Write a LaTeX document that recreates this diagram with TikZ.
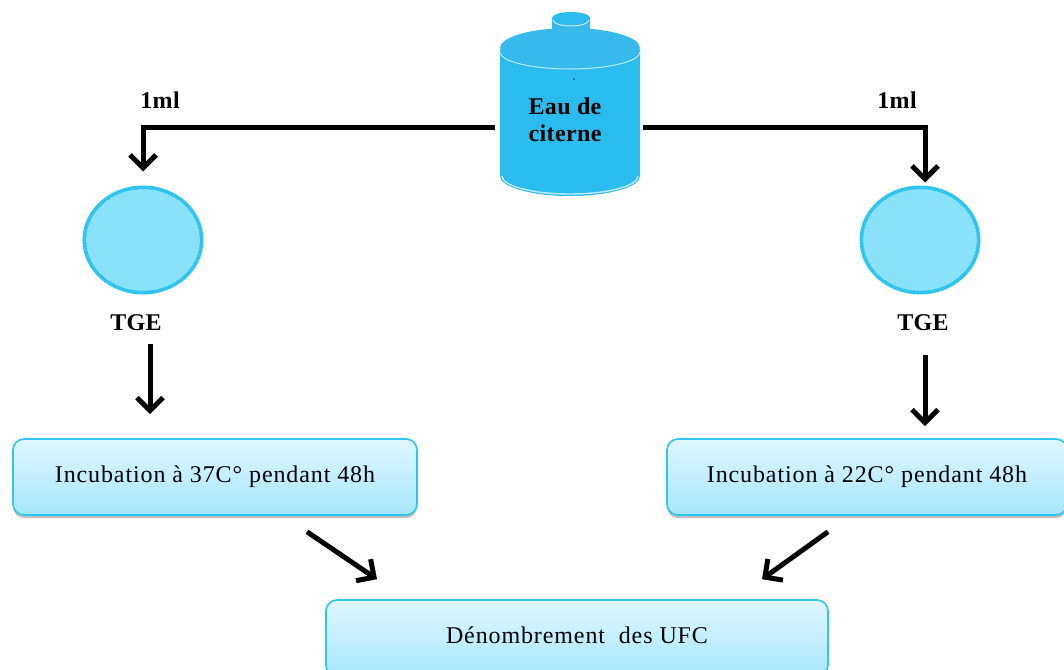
\documentclass[tikz,border=0pt]{standalone}
\usepackage{fontspec}
\setmainfont{Liberation Serif}
\usetikzlibrary{arrows.meta,shadows,shapes.geometric}
\definecolor{eau}{HTML}{2ABCEE}
\definecolor{eaufonce}{HTML}{37B9EC}
\definecolor{eauclair}{HTML}{8AE2FA}
\definecolor{bord}{HTML}{30C5F0}
\definecolor{boitehaut}{HTML}{DFF7FF}
\definecolor{boitebas}{HTML}{A6E7FD}
\newfontfamily\texteboite[LetterSpace=3.7]{Liberation Serif}
\newfontfamily\textegras[LetterSpace=1.5]{Liberation Serif Bold}
\begin{document}
\begin{tikzpicture}[x=1pt,y=-1pt]
	\tikzstyle{boite} = [draw=bord,line width=1.6pt,rounded corners=11pt,top color=boitehaut,bottom color=boitebas,minimum height=76pt,drop shadow={shadow xshift=0pt,shadow yshift=-3pt,opacity=0.5},font=\texteboite\fontsize{24}{27}\selectfont];
	\tikzstyle{disque} = [ellipse,draw=bord,line width=4pt,fill=eauclair,minimum width=117pt,minimum height=105pt,inner sep=0pt];
	\tikzstyle{gras} = [font=\textegras\fontsize{24}{27}\selectfont,align=center,inner sep=0pt];
	\tikzstyle{fleche} = [-{Straight Barb[length=13pt,width=26pt]},line width=5pt,black];
	
	\useasboundingbox (0,0) rectangle (1064,669);
	
	% le reservoir
	\fill[eau] (500,50) -- (500,176) arc[start angle=180,end angle=0,x radius=70,y radius=20] -- (640,50) -- cycle;
	\fill[eaufonce] (570,48) ellipse[x radius=70,y radius=20];
	\draw[white!70!eau,line width=1pt] (500,52) arc[start angle=180,end angle=0,x radius=70,y radius=17];
	\draw[white!70!eau,line width=1.4pt] (502,176) arc[start angle=180,end angle=0,x radius=68,y radius=18];
	\fill[eaufonce] (552,18) -- (552,46) arc[start angle=180,end angle=0,x radius=19,y radius=7] -- (590,18) -- cycle;
	\fill[eau] (571,18) ellipse[x radius=19,y radius=6];
	\draw[white!70!eau,line width=1pt] (553,20) arc[start angle=180,end angle=0,x radius=18,y radius=6];
	\fill[black!70!eau] (574,79) circle (0.8);
	
	\node[minimum width=148pt,minimum height=126pt,inner sep=0pt] (citerne) at (569,127) {};
	\node[gras] (eauTexte) at (565,119.5) {Eau de\\citerne};
	
	\foreach \nom/\x in {disqueG/143,disqueD/920}{
		\node[disque] (\nom) at (\x,240) {};
		\draw[white,densely dotted,line width=0.5pt] (\x,240) ellipse[x radius=56.5,y radius=50.5];
	}
	
	\node[gras] (mlG) at (160,100) {1ml};
	\node[gras] (mlD) at (897,100) {1ml};
	\node[gras] (tgeG) at (136,323) {TGE};
	\node[gras] (tgeD) at (923,323) {TGE};
	
	\node[boite,minimum width=404pt] (incG) at (215,477) {Incubation à 37C° pendant 48h};
	\node[boite,minimum width=400pt] (incD) at (867,477) {Incubation à 22C° pendant 48h};
	\node[boite,minimum width=502pt] (denombre) at (577,638) {};
	\node[font=\texteboite\fontsize{24}{27}\selectfont,inner sep=0pt] (denTexte) at (577,635) {Dénombrement\ \ des UFC};
	
	\draw[fleche,shorten >=14pt] (citerne.west) -| (disqueG.north);
	\draw[fleche,shorten >=3pt] (citerne.east) -| ([xshift=5pt]disqueD.north);
	\draw[fleche] ([shift={(14,13)}]tgeG.south) -- ([shift={(-65,-24)}]incG.north);
	\draw[fleche] ([shift={(2,24)}]tgeD.south) -- ([shift={(58,-12)}]incD.north);
	\draw[fleche] ([shift={(92,16)}]incG.south) -- ([shift={(-200,-20)}]denombre.north);
	\draw[fleche] ([shift={(-39,16)}]incD.south) -- ([shift={(185,-20)}]denombre.north);
	
\end{tikzpicture}
\end{document}
